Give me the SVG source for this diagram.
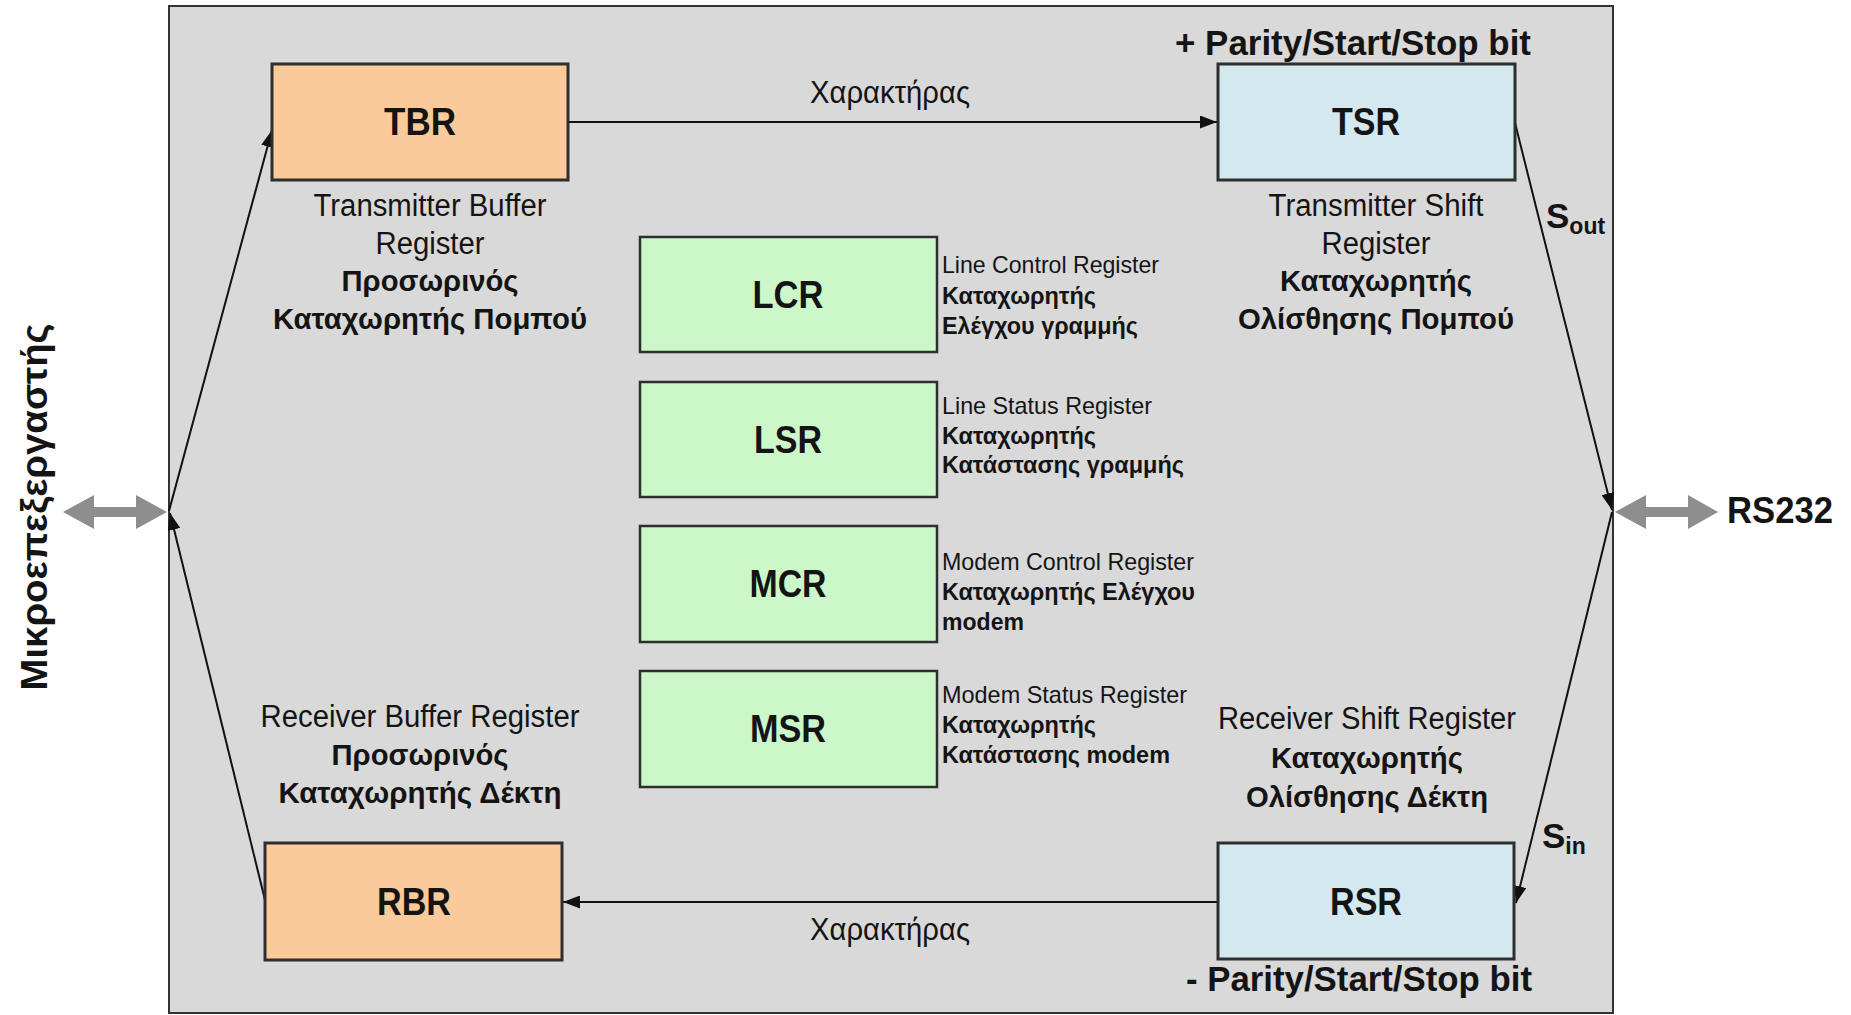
<svg xmlns="http://www.w3.org/2000/svg" width="1851" height="1015" viewBox="0 0 1851 1015">
  <defs>
    <style>
      text { font-family: "Liberation Sans", Arial, sans-serif; fill: #141414; }
      .reg { font-size: 31px; }
      .bold { font-size: 30px; font-weight: bold; }
      .small { font-size: 24px; }
      .smallb { font-size: 24px; font-weight: bold; }
      .name { font-size: 38px; font-weight: bold; text-anchor: middle; }
      .mid { text-anchor: middle; }
      .buf { fill: #fbca9a; stroke: #2e2e2e; stroke-width: 3; }
      .shift { fill: #d3e9ef; stroke: #2e2e2e; stroke-width: 3; }
      .ctl { fill: #ccf8c9; stroke: #2e2e2e; stroke-width: 2.5; }
      .wire { fill: none; stroke: #111; stroke-width: 2; }
      .bus { fill: #8e8e8e; }
    </style>
    <marker id="head" viewBox="0 0 17 13" refX="17" refY="6.5" markerWidth="17" markerHeight="13" markerUnits="userSpaceOnUse" orient="auto">
      <path d="M0,0 L17,6.5 L0,13 Z" fill="#111"/>
    </marker>
  </defs>

  <!-- UART enclosure -->
  <rect x="169" y="6" width="1444" height="1007" fill="#d9d9d9" stroke="#333" stroke-width="2"/>

  <!-- Connectors -->
  <g id="connectors">
    <line class="wire" x1="568" y1="122" x2="1217" y2="122" marker-end="url(#head)"/>
    <line class="wire" x1="1218" y1="902" x2="563" y2="902" marker-end="url(#head)"/>
    <line class="wire" x1="169" y1="511" x2="272" y2="130" marker-end="url(#head)"/>
    <line class="wire" x1="265" y1="900" x2="170" y2="513" marker-end="url(#head)"/>
    <line class="wire" x1="1515" y1="123" x2="1612" y2="510" marker-end="url(#head)"/>
    <line class="wire" x1="1612" y1="512" x2="1516" y2="903" marker-end="url(#head)"/>
    <!-- data bus arrows -->
    <polygon class="bus" points="63,512 94,495 94,507 136,507 136,495 167,512 136,529 136,517 94,517 94,529"/>
    <polygon class="bus" points="1615,512 1646,495 1646,507 1688,507 1688,495 1718,512 1688,529 1688,517 1646,517 1646,529"/>
    <text class="bold" x="1175" y="55" textLength="356" lengthAdjust="spacingAndGlyphs" style="font-size:35px">+ Parity/Start/Stop bit</text>
    <text class="bold" x="1186" y="991" textLength="346" lengthAdjust="spacingAndGlyphs" style="font-size:35px">- Parity/Start/Stop bit</text>
    <text class="reg mid" x="890" y="103" textLength="160" lengthAdjust="spacingAndGlyphs">Χαρακτήρας</text>
    <text class="reg mid" x="890" y="940" textLength="160" lengthAdjust="spacingAndGlyphs">Χαρακτήρας</text>
    <text x="1546" y="228" style="font-size:35px;font-weight:bold">S<tspan dy="6" style="font-size:23px">out</tspan></text>
    <text x="1542" y="848" style="font-size:35px;font-weight:bold">S<tspan dy="6" style="font-size:23px">in</tspan></text>
  </g>

  <!-- Side ports -->
  <g id="cpu">
    <text class="bold" x="47" y="507" text-anchor="middle" textLength="367" lengthAdjust="spacingAndGlyphs" transform="rotate(-90 47 507)" style="font-size:37px">Μικροεπεξεργαστής</text>
  </g>
  <g id="rs232">
    <text x="1727" y="523" textLength="106" lengthAdjust="spacingAndGlyphs" style="font-size:36px;font-weight:bold">RS232</text>
  </g>

  <!-- Transmitter buffer -->
  <g id="tbr">
    <rect class="buf" x="272" y="64" width="296" height="116"/>
    <text class="name" x="420" y="135" textLength="72" lengthAdjust="spacingAndGlyphs">TBR</text>
    <text class="reg mid" x="430" y="216" textLength="233" lengthAdjust="spacingAndGlyphs">Transmitter Buffer</text>
    <text class="reg mid" x="430" y="254" textLength="109" lengthAdjust="spacingAndGlyphs">Register</text>
    <text class="bold mid" x="430" y="291" textLength="177" lengthAdjust="spacingAndGlyphs">Προσωρινός</text>
    <text class="bold mid" x="430" y="329" textLength="314" lengthAdjust="spacingAndGlyphs">Καταχωρητής Πομπού</text>
  </g>

  <!-- Transmitter shift register -->
  <g id="tsr">
    <rect class="shift" x="1218" y="64" width="297" height="116"/>
    <text class="name" x="1366" y="135" textLength="68" lengthAdjust="spacingAndGlyphs">TSR</text>
    <text class="reg mid" x="1376" y="216" textLength="215" lengthAdjust="spacingAndGlyphs">Transmitter Shift</text>
    <text class="reg mid" x="1376" y="254" textLength="109" lengthAdjust="spacingAndGlyphs">Register</text>
    <text class="bold mid" x="1376" y="291" textLength="192" lengthAdjust="spacingAndGlyphs">Καταχωρητής</text>
    <text class="bold mid" x="1376" y="329" textLength="276" lengthAdjust="spacingAndGlyphs">Ολίσθησης Πομπού</text>
  </g>

  <!-- Control / status registers -->
  <g id="lcr">
    <rect class="ctl" x="640" y="237" width="297" height="115"/>
    <text class="name" x="788" y="308" textLength="71" lengthAdjust="spacingAndGlyphs">LCR</text>
    <text class="small" x="942" y="273" textLength="217" lengthAdjust="spacingAndGlyphs">Line Control Register</text>
    <text class="smallb" x="942" y="304" textLength="154" lengthAdjust="spacingAndGlyphs">Καταχωρητής</text>
    <text class="smallb" x="942" y="334" textLength="196" lengthAdjust="spacingAndGlyphs">Ελέγχου γραμμής</text>
  </g>
  <g id="lsr">
    <rect class="ctl" x="640" y="382" width="297" height="115"/>
    <text class="name" x="788" y="453" textLength="68" lengthAdjust="spacingAndGlyphs">LSR</text>
    <text class="small" x="942" y="414" textLength="210" lengthAdjust="spacingAndGlyphs">Line Status Register</text>
    <text class="smallb" x="942" y="444" textLength="154" lengthAdjust="spacingAndGlyphs">Καταχωρητής</text>
    <text class="smallb" x="942" y="473" textLength="242" lengthAdjust="spacingAndGlyphs">Κατάστασης γραμμής</text>
  </g>
  <g id="mcr">
    <rect class="ctl" x="640" y="526" width="297" height="116"/>
    <text class="name" x="788" y="597" textLength="77" lengthAdjust="spacingAndGlyphs">MCR</text>
    <text class="small" x="942" y="570" textLength="252" lengthAdjust="spacingAndGlyphs">Modem Control Register</text>
    <text class="smallb" x="942" y="600" textLength="253" lengthAdjust="spacingAndGlyphs">Καταχωρητής Ελέγχου</text>
    <text class="smallb" x="942" y="630" textLength="82" lengthAdjust="spacingAndGlyphs">modem</text>
  </g>
  <g id="msr">
    <rect class="ctl" x="640" y="671" width="297" height="116"/>
    <text class="name" x="788" y="742" textLength="76" lengthAdjust="spacingAndGlyphs">MSR</text>
    <text class="small" x="942" y="703" textLength="245" lengthAdjust="spacingAndGlyphs">Modem Status Register</text>
    <text class="smallb" x="942" y="733" textLength="154" lengthAdjust="spacingAndGlyphs">Καταχωρητής</text>
    <text class="smallb" x="942" y="763" textLength="228" lengthAdjust="spacingAndGlyphs">Κατάστασης modem</text>
  </g>

  <!-- Receiver buffer -->
  <g id="rbr">
    <rect class="buf" x="265" y="843" width="297" height="117"/>
    <text class="name" x="414" y="915" textLength="74" lengthAdjust="spacingAndGlyphs">RBR</text>
    <text class="reg mid" x="420" y="727" textLength="319" lengthAdjust="spacingAndGlyphs">Receiver Buffer Register</text>
    <text class="bold mid" x="420" y="765" textLength="177" lengthAdjust="spacingAndGlyphs">Προσωρινός</text>
    <text class="bold mid" x="420" y="803" textLength="283" lengthAdjust="spacingAndGlyphs">Καταχωρητής Δέκτη</text>
  </g>

  <!-- Receiver shift register -->
  <g id="rsr">
    <rect class="shift" x="1218" y="843" width="296" height="116"/>
    <text class="name" x="1366" y="915" textLength="72" lengthAdjust="spacingAndGlyphs">RSR</text>
    <text class="reg mid" x="1367" y="729" textLength="298" lengthAdjust="spacingAndGlyphs">Receiver Shift Register</text>
    <text class="bold mid" x="1367" y="768" textLength="192" lengthAdjust="spacingAndGlyphs">Καταχωρητής</text>
    <text class="bold mid" x="1367" y="807" textLength="242" lengthAdjust="spacingAndGlyphs">Ολίσθησης Δέκτη</text>
  </g>
</svg>
